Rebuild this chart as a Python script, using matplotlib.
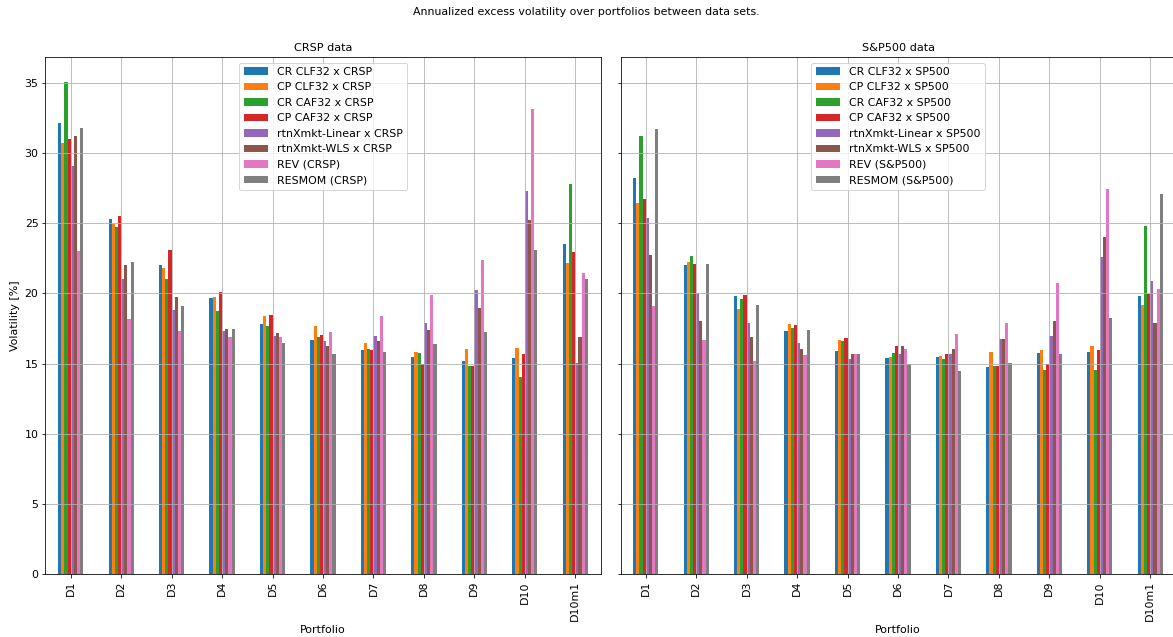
import numpy as np
import matplotlib
matplotlib.use("Agg")
import matplotlib.pyplot as plt

portfolios = ["D1", "D2", "D3", "D4", "D5", "D6", "D7", "D8", "D9", "D10", "D10m1"]

# CRSP data set
crsp_cr_clf32 = [32.17, 25.30, 22.00, 19.70, 17.80, 16.67, 16.00, 15.48, 15.15, 15.41, 23.52]
crsp_cp_clf32 = [30.70, 24.96, 21.84, 19.77, 18.37, 17.69, 16.50, 15.81, 16.07, 16.14, 22.15]
crsp_cr_caf32 = [35.10, 24.75, 21.00, 18.78, 17.70, 16.88, 16.07, 15.77, 14.86, 14.03, 27.81]
crsp_cp_caf32 = [31.00, 25.50, 23.10, 20.10, 18.47, 17.07, 15.95, 14.96, 14.81, 15.70, 22.96]
crsp_linear = [29.10, 21.00, 18.83, 17.35, 17.00, 16.60, 17.00, 17.87, 20.27, 27.29, 15.06]
crsp_wls = [31.20, 22.00, 19.75, 17.50, 17.19, 16.27, 16.60, 17.40, 18.99, 25.20, 16.88]
crsp_rev = [23.00, 18.20, 17.35, 16.93, 16.86, 17.28, 18.37, 19.87, 22.38, 33.12, 21.48]
crsp_resmom = [31.80, 22.26, 19.10, 17.50, 16.50, 15.70, 15.86, 16.43, 17.23, 23.07, 21.03]

# S&P500 data set
sp_cr_clf32 = [28.26, 22.00, 19.84, 17.33, 15.93, 15.39, 15.50, 14.75, 15.72, 15.86, 19.84]
sp_cp_clf32 = [26.46, 22.24, 18.90, 17.80, 16.69, 15.48, 15.55, 15.81, 16.00, 16.22, 19.20]
sp_cr_caf32 = [31.20, 22.64, 19.58, 17.57, 16.60, 15.77, 15.36, 14.80, 14.56, 14.56, 24.82]
sp_cp_caf32 = [26.70, 22.07, 19.91, 17.76, 16.83, 16.22, 15.65, 14.84, 14.94, 16.00, 19.96]
sp_linear = [25.39, 20.06, 17.87, 16.50, 15.36, 15.65, 15.70, 16.76, 17.00, 22.57, 20.91]
sp_wls = [22.71, 18.07, 16.93, 16.03, 15.70, 16.22, 16.03, 16.78, 18.07, 24.04, 17.87]
sp_rev = [19.08, 16.71, 15.15, 15.63, 15.65, 16.07, 17.14, 17.87, 20.77, 27.43, 20.32]
sp_resmom = [31.70, 22.07, 19.18, 17.40, 15.65, 14.98, 14.50, 15.06, 15.65, 18.26, 27.10]

crsp_labels = ["CR CLF32 x CRSP", "CP CLF32 x CRSP", "CR CAF32 x CRSP", "CP CAF32 x CRSP",
               "rtnXmkt-Linear x CRSP", "rtnXmkt-WLS x CRSP", "REV (CRSP)", "RESMOM (CRSP)"]
sp_labels = ["CR CLF32 x SP500", "CP CLF32 x SP500", "CR CAF32 x SP500", "CP CAF32 x SP500",
             "rtnXmkt-Linear x SP500", "rtnXmkt-WLS x SP500", "REV (S&P500)", "RESMOM (S&P500)"]

crsp_series = [crsp_cr_clf32, crsp_cp_clf32, crsp_cr_caf32, crsp_cp_caf32,
               crsp_linear, crsp_wls, crsp_rev, crsp_resmom]
sp_series = [sp_cr_clf32, sp_cp_clf32, sp_cr_caf32, sp_cp_caf32,
             sp_linear, sp_wls, sp_rev, sp_resmom]

colors = plt.rcParams["axes.prop_cycle"].by_key()["color"][:8]

plt.rcParams["font.size"] = 11
plt.rcParams["axes.titlesize"] = 11.3
plt.rcParams["legend.fontsize"] = 11

W, H, DPI = 1173, 637, 72
fig = plt.figure(figsize=(W / DPI, H / DPI), dpi=DPI)

bottom = (H - 574) / H
height = 517 / H
ax1 = fig.add_axes([45.5 / W, bottom, 555 / W, height])
ax2 = fig.add_axes([620.5 / W, bottom, 555 / W, height], sharey=ax1)


def grouped_bars(ax, series, labels, title):
    x = np.arange(len(portfolios))
    n = len(series)
    w = 0.5 / n
    for i, (vals, lab) in enumerate(zip(series, labels)):
        ax.bar(x + (i - (n - 1) / 2) * w, vals, width=w, color=colors[i], label=lab)
    ax.set_xlim(-0.5, len(portfolios) - 0.5)
    ax.set_xticks(x)
    ax.set_xticklabels(portfolios, rotation=90)
    ax.grid(True)
    ax.set_xlabel("Portfolio")
    ax.set_title(title)
    ax.legend(loc="upper center", handlelength=2.2)


grouped_bars(ax1, crsp_series, crsp_labels, "CRSP data")
grouped_bars(ax2, sp_series, sp_labels, "S&P500 data")
ax1.set_ylabel("Volatility [%]")
ax1.set_yticks([0, 5, 10, 15, 20, 25, 30, 35])
plt.setp(ax2.get_yticklabels(), visible=False)

fig.suptitle("Annualized excess volatility over portfolios between data sets.",
             y=1 - 12 / H, va="center", fontsize=11)

fig.savefig("out.png", dpi=DPI)
